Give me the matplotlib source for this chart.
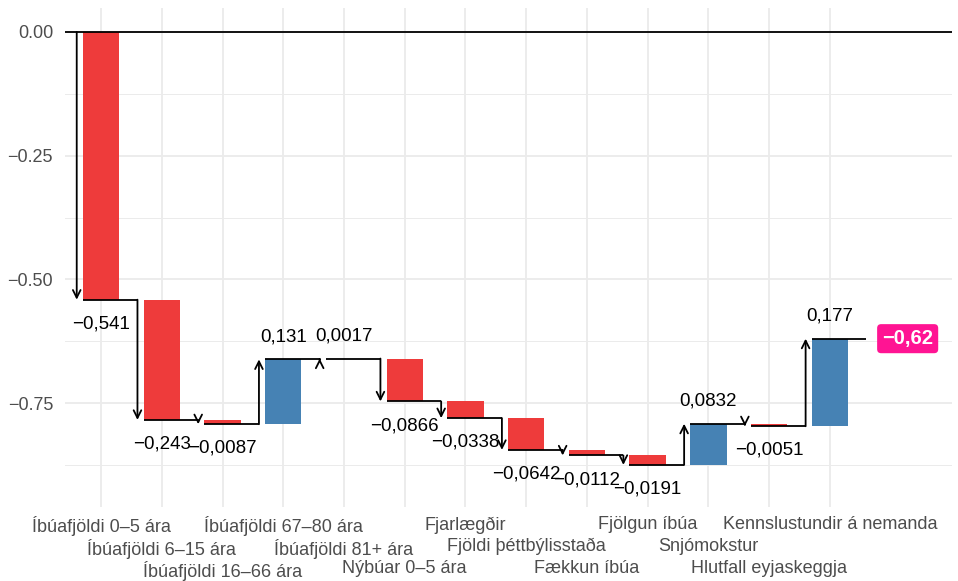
import matplotlib.pyplot as plt
import matplotlib as mpl
import numpy as np

mpl.rcParams['font.family'] = ['Liberation Sans', 'DejaVu Sans']

flokkar = ["Íbúafjöldi 0–5 ára", "Íbúafjöldi 6–15 ára", "Íbúafjöldi 16–66 ára",
           "Íbúafjöldi 67–80 ára", "Íbúafjöldi 81+ ára", "Nýbúar 0–5 ára",
           "Fjarlægðir", "Fjöldi þéttbýlisstaða", "Fækkun íbúa",
           "Fjölgun íbúa", "Snjómokstur", "Hlutfall eyjaskeggja",
           "Kennslustundir á nemanda"]
breyting = [-0.541, -0.243, -0.0087, 0.131, 0.0017, -0.0866, -0.0338,
            -0.0642, -0.0112, -0.0191, 0.0832, -0.0051, 0.177]
y_ticks = [0.0, -0.25, -0.50, -0.75]
y_tick_labels = ["0.00", "−0.25", "−0.50", "−0.75"]

rautt = "#EE3B3B"
blatt = "#4682B4"
bleikt = "#FF1493"

def fmt(v, snid="{:.3g}"):
    return snid.format(v).replace(".", ",").replace("-", "−")

x = np.arange(1, len(flokkar) + 1)
cum = np.cumsum(breyting)
start = np.concatenate([[0.0], cum[:-1]])

fig = plt.figure(figsize=(9.58, 5.81), dpi=100)
ax = fig.add_axes([65/958, 74/581, 887/958, 499/581])

# grid
for yy in [-0.125, -0.375, -0.625, -0.875]:
    ax.axhline(yy, color="#EBEBEB", lw=0.7, zorder=0)
for yy in y_ticks:
    ax.axhline(yy, color="#EBEBEB", lw=1.3, zorder=0)
for xx in x:
    ax.axvline(xx, color="#EBEBEB", lw=1.3, zorder=0)

ax.axhline(0, color="black", lw=1.3, zorder=2)

litir = [rautt if b < 0 else blatt for b in breyting]
ax.bar(x, cum - start, bottom=start, width=0.6, color=litir, zorder=1)

for i in range(len(x)):
    # ör frá fyrri stöðu
    ax.annotate("", xy=(x[i] - 0.4, cum[i]), xytext=(x[i] - 0.4, start[i]),
                arrowprops=dict(arrowstyle="->,head_length=0.5,head_width=0.25",
                                lw=1.3, color="black", shrinkA=0, shrinkB=0,
                                mutation_scale=11), zorder=3)
    ax.plot([x[i] - 0.3, x[i] + 0.6], [cum[i], cum[i]], color="black", lw=1.3,
            zorder=3, solid_capstyle="butt")
    if breyting[i] < 0:
        ax.text(x[i], cum[i] - 0.049, fmt(breyting[i]), ha="center", va="center",
                fontsize=13.5, color="black", zorder=4)
    else:
        ax.text(x[i], cum[i] + 0.046, fmt(breyting[i]), ha="center", va="center",
                fontsize=13.5, color="black", zorder=4)

ax.text(14.28, cum[-1], fmt(cum[-1], "{:.2f}"), ha="center", va="center",
        fontsize=14.5, fontweight="bold", color="white", zorder=5,
        bbox=dict(boxstyle="round,pad=0.25,rounding_size=0.2", fc=bleikt, ec="none"))

ax.set_xlim(0.407, 15.01)
ax.set_ylim(-0.960, 0.0485)

tick_txt = []
for i, f in enumerate(flokkar):
    tick_txt.append("\n" * (i % 3) + f)
ax.set_xticks(x)
ax.set_xticklabels(tick_txt, fontsize=13, color="#4D4D4D", linespacing=1.36, va="top")
ax.set_yticks(y_ticks)
ax.set_yticklabels(y_tick_labels, fontsize=13, color="#4D4D4D")
ax.tick_params(length=0, axis="x", pad=6.8)
ax.tick_params(length=0, axis="y", pad=8.6)
for s in ax.spines.values():
    s.set_visible(False)

fig.savefig("out.png", dpi=100)
